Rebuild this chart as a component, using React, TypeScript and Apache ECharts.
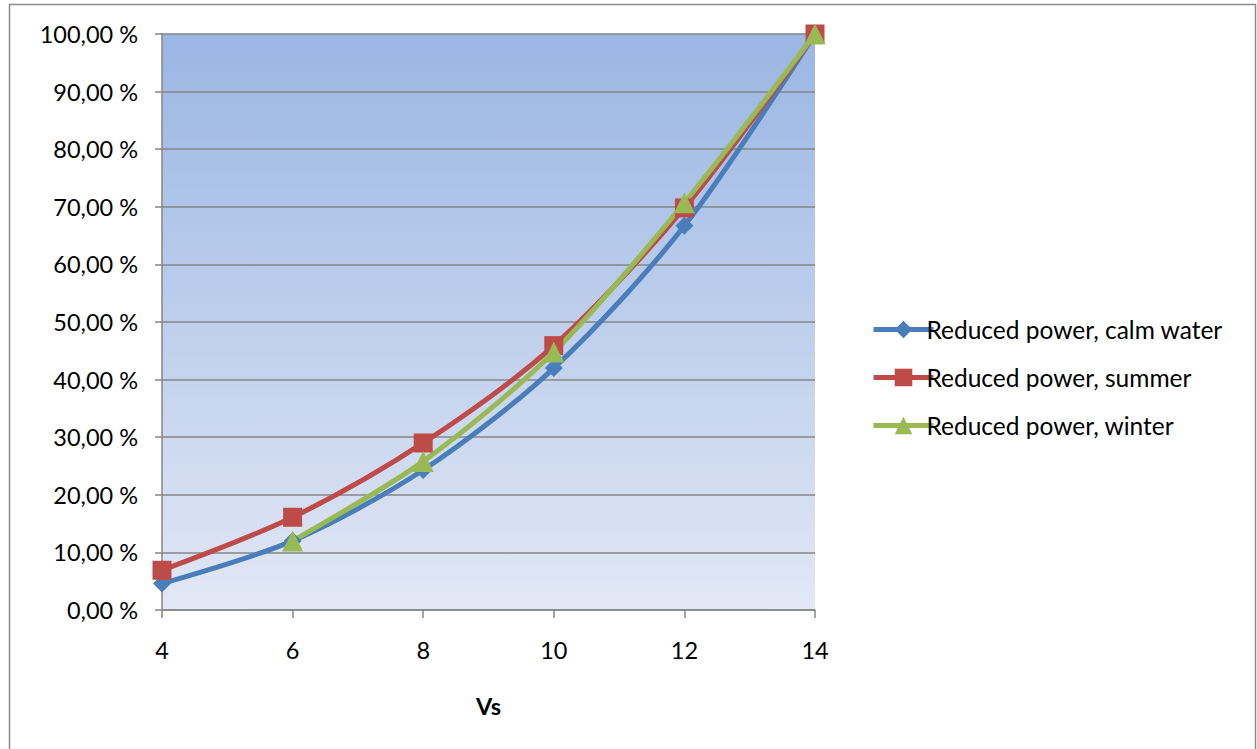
import React, { useEffect, useRef } from "react";
import * as echarts from "echarts";

const speeds = [4, 6, 8, 10, 12, 14];
const calmWater = [4.6, 12.0, 24.3, 42.0, 66.7, 100];
const summer = [6.9, 16.1, 29.0, 45.9, 69.8, 100];
const winterSpeeds = [6, 8, 10, 12, 14];
const winter = [12.0, 25.8, 44.8, 70.7, 100];
const seriesNames = [
  "Reduced power, calm water",
  "Reduced power, summer",
  "Reduced power, winter",
];
const xAxisName = "Vs";

const FONT = "Lato, 'Open Sans', sans-serif";
const FS = 23.5;

export default function App() {
  const ref = useRef<HTMLDivElement>(null);
  useEffect(() => {
    if (!ref.current) return;
    const chart = echarts.init(ref.current, null, { renderer: "svg" });
    const pair = (xs: number[], ys: number[]) => xs.map((x, i) => [x, ys[i]]);
    chart.setOption({
      animation: false,
      textStyle: { fontFamily: FONT },
      graphic: [
        {
          type: "rect",
          shape: { x: 9.5, y: 4.5, width: 1246, height: 800 },
          style: { fill: "none", stroke: "#8a8a8a", lineWidth: 1.5 },
          silent: true,
        },
      ],
      grid: {
        left: 162,
        right: 442,
        top: 34,
        bottom: 139,
        show: true,
        borderWidth: 0,
        backgroundColor: new echarts.graphic.LinearGradient(0, 0, 0, 1, [
          { offset: 0, color: "#9ab6e3" },
          { offset: 1, color: "#e2e8f5" },
        ]),
      },
      xAxis: {
        type: "value",
        min: 4,
        max: 14,
        interval: 2,
        name: xAxisName,
        nameLocation: "middle",
        nameGap: 84,
        nameTextStyle: { fontWeight: "bold", fontSize: FS, color: "#000", fontFamily: FONT },
        axisLine: { show: true, lineStyle: { color: "#868686", width: 1.5 } },
        axisTick: { show: true, length: 8, lineStyle: { color: "#868686", width: 1.5 } },
        axisLabel: { color: "#000", fontSize: FS, margin: 28, fontFamily: FONT },
        splitLine: { show: false },
      },
      yAxis: {
        type: "value",
        min: 0,
        max: 100,
        interval: 10,
        axisLine: { show: true, lineStyle: { color: "#868686", width: 1.5 } },
        axisTick: { show: true, length: 7, lineStyle: { color: "#868686", width: 1.5 } },
        axisLabel: {
          color: "#000",
          fontSize: FS,
          margin: 24,
          fontFamily: FONT,
          formatter: (v: number) => v.toFixed(2).replace(".", ",") + " %",
        },
        splitLine: { show: true, lineStyle: { color: "#868686", width: 1.5 } },
      },
      legend: {
        orient: "vertical",
        left: 866,
        top: 312,
        itemWidth: 60,
        itemHeight: 22,
        itemGap: 23,
        lineStyle: { width: 5 },
        textStyle: { color: "#000", fontSize: 24.5, fontFamily: FONT, padding: [0, 0, 0, -12] },
        data: seriesNames,
      },
      series: [
        {
          name: seriesNames[0],
          type: "line",
          smooth: 0.3,
          data: pair(speeds, calmWater),
          symbol: "diamond",
          symbolSize: 18,
          lineStyle: { color: "#4a7ebb", width: 5 },
          itemStyle: { color: "#4a7ebb" },
        },
        {
          name: seriesNames[1],
          type: "line",
          smooth: 0.3,
          data: pair(speeds, summer),
          symbol: "rect",
          symbolSize: 19,
          lineStyle: { color: "#be4b48", width: 5 },
          itemStyle: { color: "#be4b48" },
        },
        {
          name: seriesNames[2],
          type: "line",
          smooth: 0.3,
          data: pair(winterSpeeds, winter),
          symbol: "triangle",
          symbolSize: 21,
          lineStyle: { color: "#98b954", width: 5 },
          itemStyle: { color: "#98b954" },
        },
      ],
    });
    return () => chart.dispose();
  }, []);
  return (
    <div
      ref={ref}
      style={{ position: "absolute", left: 0, top: 0, width: 1257, height: 749, background: "#fff" }}
    />
  );
}
